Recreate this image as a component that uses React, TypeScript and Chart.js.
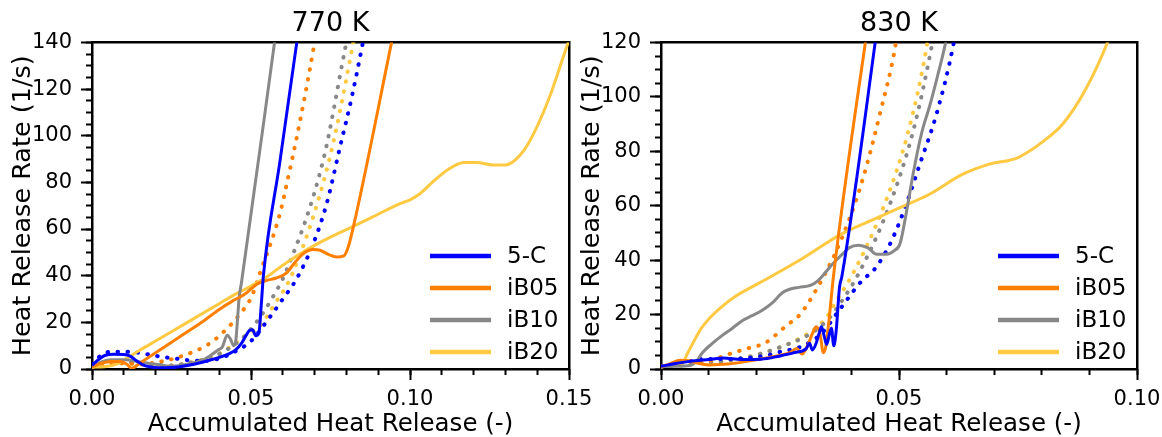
import React, { useEffect, useRef } from 'react';
import { Chart, registerables } from 'chart.js';

Chart.register(...registerables);

type Pt = [number, number];

// ---------- Tick values ----------
const xTicks770 = [0, 0.05, 0.1, 0.15];
const xMinor770 = [0, 0.01, 0.02, 0.03, 0.04, 0.05, 0.06, 0.07, 0.08, 0.09, 0.1, 0.11, 0.12, 0.13, 0.14, 0.15];
const yTicks770 = [0, 20, 40, 60, 80, 100, 120, 140];
const yMinor770 = [0, 5, 10, 15, 20, 25, 30, 35, 40, 45, 50, 55, 60, 65, 70, 75, 80, 85, 90, 95, 100, 105, 110, 115, 120, 125, 130, 135, 140];

const xTicks830 = [0, 0.05, 0.1];
const xMinor830 = [0, 0.01, 0.02, 0.03, 0.04, 0.05, 0.06, 0.07, 0.08, 0.09, 0.1];
const yTicks830 = [0, 20, 40, 60, 80, 100, 120];
const yMinor830 = [0, 5, 10, 15, 20, 25, 30, 35, 40, 45, 50, 55, 60, 65, 70, 75, 80, 85, 90, 95, 100, 105, 110, 115, 120];

const seriesNames = ['5-C', 'iB05', 'iB10', 'iB20'];

// ---------- 770 K : solid curves ----------
const k770_5C_solid: Pt[] = [[0, 1.5], [0.002, 4], [0.004, 5.8], [0.007, 6.3], [0.01, 6.2], [0.012, 5.5], [0.014, 3.5], [0.016, 1.8], [0.018, 1.0], [0.021, 0.5], [0.025, 0.6], [0.03, 1.5], [0.035, 3], [0.04, 5], [0.043, 6.5], [0.045, 8], [0.047, 11], [0.0485, 14.5], [0.0495, 16.5], [0.0505, 16.8], [0.0515, 14.2], [0.0525, 15.5], [0.0532, 27], [0.0539, 40], [0.0591, 89], [0.0645, 141]];
const k770_iB05_solid: Pt[] = [[0, 0.8], [0.003, 2.5], [0.006, 3.2], [0.009, 3.2], [0.011, 2], [0.0125, 0.3], [0.015, 2.5], [0.02, 7], [0.025, 11.5], [0.03, 16], [0.035, 20.5], [0.04, 25.5], [0.044, 29], [0.048, 32], [0.052, 36.5], [0.055, 38], [0.058, 39], [0.061, 41], [0.064, 46], [0.067, 50], [0.0695, 51.2], [0.0717, 50.9], [0.0745, 49], [0.077, 48], [0.0792, 48.5], [0.0805, 52], [0.0822, 61], [0.0942, 140], [0.0945, 142]];
const k770_iB10_solid: Pt[] = [[0, 1], [0.003, 3], [0.006, 4], [0.01, 4], [0.015, 3], [0.02, 2], [0.025, 1.2], [0.03, 2], [0.035, 4], [0.038, 6.5], [0.0395, 8], [0.041, 9.5], [0.0425, 14.5], [0.0435, 13], [0.0445, 10], [0.0452, 12], [0.0458, 22], [0.0463, 31], [0.047, 37], [0.0575, 141]];
const k770_iB20_solid: Pt[] = [[0, 0.8], [0.004, 1], [0.008, 2.2], [0.01, 3.8], [0.015, 8], [0.02, 12], [0.025, 16], [0.03, 20], [0.035, 24], [0.04, 28], [0.045, 32], [0.05, 35.5], [0.055, 39.5], [0.06, 44.5], [0.065, 49], [0.07, 53], [0.075, 56.5], [0.082, 61], [0.088, 65], [0.0969, 70.9], [0.1, 72.5], [0.103, 75], [0.107, 80], [0.112, 85.5], [0.117, 88.5], [0.121, 88.5], [0.126, 87.5], [0.13, 87.5], [0.133, 89.5], [0.136, 94], [0.14, 104], [0.144, 117], [0.148, 133], [0.1505, 143]];

// ---------- 770 K : dotted curves ----------
const k770_5C_dotted: Pt[] = [[0, 2], [0.003, 6], [0.006, 7.4], [0.01, 7.4], [0.013, 7.2], [0.016, 6.7], [0.0214, 5.3], [0.0266, 4.4], [0.03, 3.8], [0.035, 3.5], [0.04, 4.5], [0.045, 7.5], [0.05, 12], [0.056, 22.4], [0.06, 30], [0.0644, 38.8], [0.0696, 53.8], [0.0738, 70.9], [0.078, 95.2], [0.0817, 116.6], [0.0851, 139.4], [0.086, 146]];
const k770_iB05_dotted: Pt[] = [[0, 1], [0.005, 2.5], [0.01, 2.5], [0.015, 2], [0.02, 2.8], [0.025, 4.2], [0.0319, 7.4], [0.0365, 10.5], [0.041, 15.4], [0.0468, 24], [0.0502, 31], [0.0528, 41], [0.0591, 66.6], [0.0617, 82.3], [0.0644, 99.4], [0.0696, 136.9], [0.0702, 142]];
const k770_iB10_dotted: Pt[] = [[0, 1], [0.004, 3], [0.008, 3.5], [0.012, 3], [0.016, 2.5], [0.02, 2], [0.025, 1.5], [0.03, 2.5], [0.035, 4], [0.04, 6.5], [0.0468, 12.6], [0.0515, 19.7], [0.0565, 30], [0.0612, 42.4], [0.0727, 89.5], [0.0796, 137.3], [0.0803, 142]];
const k770_iB20_dotted: Pt[] = [[0, 0.8], [0.004, 2], [0.008, 2.5], [0.012, 2.5], [0.016, 2], [0.02, 1.5], [0.025, 1.5], [0.03, 2.5], [0.035, 4], [0.04, 6.5], [0.048, 14], [0.0527, 18.3], [0.0575, 28], [0.0628, 40.2], [0.0743, 88], [0.0817, 136.6], [0.0824, 142]];

// ---------- 830 K : solid curves ----------
const k830_5C_solid: Pt[] = [[0, 1], [0.003, 2], [0.006, 2.8], [0.01, 3.5], [0.013, 4], [0.017, 3.5], [0.021, 3.6], [0.025, 4.8], [0.028, 6], [0.0305, 7.5], [0.0312, 9.5], [0.0318, 7], [0.0325, 9], [0.0332, 13], [0.0337, 15.5], [0.0343, 12], [0.0348, 9], [0.0354, 13], [0.0358, 15], [0.0363, 8.5], [0.0368, 14], [0.0375, 30], [0.038, 34], [0.045, 120], [0.0453, 124]];
const k830_iB05_solid: Pt[] = [[0, 0.8], [0.002, 2], [0.004, 3.2], [0.006, 3], [0.008, 2], [0.01, 1.5], [0.014, 1.8], [0.0187, 3], [0.0243, 4.8], [0.0271, 6], [0.0285, 7.5], [0.0296, 5.5], [0.0309, 9], [0.0318, 13], [0.0326, 15.5], [0.0334, 13], [0.0341, 6], [0.0346, 8], [0.0353, 18], [0.0362, 33.6], [0.0429, 119.5], [0.0432, 123]];
const k830_iB10_solid: Pt[] = [[0, 0.8], [0.003, 1], [0.006, 1.3], [0.0075, 3], [0.0087, 6], [0.0105, 9], [0.0126, 12], [0.015, 15], [0.0173, 18], [0.019, 19.5], [0.0212, 21.5], [0.0235, 24.5], [0.0255, 28], [0.027, 29.3], [0.029, 30], [0.0315, 30.8], [0.033, 32.5], [0.0348, 36], [0.036, 38.5], [0.038, 42], [0.0395, 44.5], [0.0415, 45.5], [0.0435, 44.5], [0.0453, 42.2], [0.0474, 42.2], [0.049, 43.5], [0.0502, 46], [0.0516, 58], [0.053, 72], [0.0548, 87], [0.0565, 97], [0.058, 107], [0.0598, 120], [0.0601, 123]];
const k830_iB20_solid: Pt[] = [[0, 0.8], [0.002, 1.2], [0.0045, 2], [0.0055, 5.5], [0.007, 10.5], [0.0085, 15], [0.01, 18.3], [0.0125, 22.5], [0.0152, 26.2], [0.0215, 32.4], [0.0298, 40.7], [0.0376, 49.3], [0.0454, 55.5], [0.0501, 59.2], [0.0563, 64.1], [0.0633, 71.5], [0.0688, 75.2], [0.075, 77.7], [0.0805, 83.9], [0.0844, 90], [0.0891, 102.4], [0.0938, 120], [0.0942, 122]];

// ---------- 830 K : dotted curves ----------
const k830_5C_dotted: Pt[] = [[0, 1], [0.004, 1.8], [0.0087, 3.7], [0.0142, 3.7], [0.022, 4.9], [0.0243, 6], [0.0298, 8.5], [0.0337, 13], [0.0376, 22], [0.0425, 33], [0.0446, 36.1], [0.0481, 45.9], [0.0513, 59.4], [0.0544, 75.4], [0.0579, 93.8], [0.0614, 118.9], [0.0617, 122]];
const k830_iB05_dotted: Pt[] = [[0, 1], [0.005, 1.8], [0.01, 3], [0.0152, 6], [0.0187, 7.8], [0.0218, 9.5], [0.0264, 16], [0.0292, 20], [0.0324, 28.5], [0.0362, 41], [0.0397, 55.7], [0.0425, 70.4], [0.046, 93.8], [0.0492, 118.3], [0.0495, 122]];
const k830_iB10_dotted: Pt[] = [[0, 1], [0.005, 1.5], [0.01, 2.5], [0.0142, 3.1], [0.0181, 4.3], [0.022, 6.2], [0.0259, 8.6], [0.0299, 11.5], [0.0327, 14.5], [0.0355, 19], [0.0376, 24], [0.0415, 35], [0.0481, 60.6], [0.053, 87.6], [0.0569, 118.9], [0.0572, 122]];
const k830_iB20_dotted: Pt[] = [[0, 0.8], [0.005, 1.5], [0.01, 2.5], [0.0142, 3.1], [0.0181, 4.3], [0.022, 6.2], [0.0259, 8.6], [0.0297, 11.8], [0.0325, 15], [0.035, 19.5], [0.0365, 24], [0.0403, 35], [0.047, 60.6], [0.052, 87.6], [0.0558, 118.3], [0.0561, 122]];

// ---------- styling ----------
const FONT = 'DejaVu Sans';
const COLORS = ['#0000FF', '#FF8000', '#888888', '#FFC942'];

type Panel = {
  title: string;
  xMax: number;
  yMax: number;
  xTicks: number[];
  xMinor: number[];
  yTicks: number[];
  yMinor: number[];
  solid: Pt[][];
  dotted: Pt[][];
};

const panel770: Panel = {
  title: '770 K', xMax: 0.15, yMax: 140,
  xTicks: xTicks770, xMinor: xMinor770, yTicks: yTicks770, yMinor: yMinor770,
  solid: [k770_5C_solid, k770_iB05_solid, k770_iB10_solid, k770_iB20_solid],
  dotted: [k770_5C_dotted, k770_iB05_dotted, k770_iB10_dotted, k770_iB20_dotted],
};
const panel830: Panel = {
  title: '830 K', xMax: 0.1, yMax: 120,
  xTicks: xTicks830, xMinor: xMinor830, yTicks: yTicks830, yMinor: yMinor830,
  solid: [k830_5C_solid, k830_iB05_solid, k830_iB10_solid, k830_iB20_solid],
  dotted: [k830_5C_dotted, k830_iB05_dotted, k830_iB10_dotted, k830_iB20_dotted],
};

const insetLegend = {
  id: 'insetLegend',
  afterDatasetsDraw(chart: any, _args: any, opts: any) {
    const { ctx, chartArea } = chart;
    const items = chart.data.datasets.filter((d: any) => d.showInLegend);
    ctx.save();
    items.forEach((d: any, i: number) => {
      const y = chartArea.bottom - opts.bottomOffset - (items.length - 1 - i) * opts.rowGap;
      ctx.strokeStyle = d.borderColor;
      ctx.lineWidth = opts.lineWidth;
      ctx.lineCap = 'butt';
      ctx.beginPath();
      ctx.moveTo(chartArea.right - opts.lineStart, y);
      ctx.lineTo(chartArea.right - opts.lineEnd, y);
      ctx.stroke();
      ctx.fillStyle = '#000';
      ctx.font = `${opts.fontSize}px "${FONT}"`;
      ctx.textBaseline = 'middle';
      ctx.textAlign = 'left';
      ctx.fillText(d.label, chartArea.right - opts.textOffset, y + opts.textDy);
    });
    ctx.restore();
  },
};

function buildConfig(p: Panel, padRight: number): any {
  const toXY = (arr: Pt[]) => arr.map(([x, y]) => ({ x, y }));
  const datasets: any[] = [];
  p.solid.forEach((arr, i) => {
    datasets.push({
      label: seriesNames[i], showInLegend: true, data: toXY(arr),
      borderColor: COLORS[i], backgroundColor: COLORS[i], borderWidth: 3,
      pointRadius: 0, fill: false, cubicInterpolationMode: 'monotone',
    });
  });
  p.dotted.forEach((arr, i) => {
    datasets.push({
      label: seriesNames[i] + ' (dotted)', showInLegend: false, data: toXY(arr),
      borderColor: COLORS[i], backgroundColor: COLORS[i], borderWidth: 4,
      borderDash: [0.5, 9.5], borderCapStyle: 'round',
      pointRadius: 0, fill: false, cubicInterpolationMode: 'monotone',
    });
  });

  const tickGrid = (len: number) => ({ drawOnChartArea: false, drawTicks: true, tickLength: len, tickWidth: 2, tickColor: '#000' });
  const setTicks = (vals: number[]) => (s: any) => { s.ticks = vals.map((v) => ({ value: v })); };

  return {
    type: 'line',
    data: { datasets },
    options: {
      animation: false,
      responsive: true,
      maintainAspectRatio: false,
      devicePixelRatio: 1,
      layout: { padding: { left: 0, top: 0, right: padRight, bottom: 0 } },
      plugins: {
        legend: { display: false },
        tooltip: { enabled: false },
        title: {
          display: true, text: p.title, color: '#000', fullSize: false,
          font: { family: FONT, size: 27, weight: 'normal' },
          padding: { top: 8, bottom: 2 },
        },
        insetLegend: { bottomOffset: 17, rowGap: 32, lineStart: 139, lineEnd: 78, textOffset: 62, lineWidth: 4.5, fontSize: 23, textDy: 1 },
      },
      scales: {
        x: {
          type: 'linear', position: 'bottom', min: 0, max: p.xMax, weight: 1,
          afterBuildTicks: setTicks(p.xTicks),
          afterFit: (s: any) => { s.height = 68; s.paddingLeft = 0; s.paddingRight = 0; },
          border: { display: true, color: '#000', width: 2.5 },
          grid: tickGrid(11),
          ticks: { autoSkip: false, maxRotation: 0, padding: 7, color: '#000', font: { family: FONT, size: 21 }, callback: (v: any) => Number(v).toFixed(2) },
          title: { display: true, text: 'Accumulated Heat Release (-)', color: '#000', font: { family: FONT, size: 24.5 }, padding: { top: 0, bottom: -2 } },
        },
        xMinor: {
          type: 'linear', position: 'bottom', min: 0, max: p.xMax, weight: 0,
          afterBuildTicks: setTicks(p.xMinor),
          afterFit: (s: any) => { s.height = 0; s.paddingLeft = 0; s.paddingRight = 0; },
          border: { display: false },
          grid: tickGrid(6),
          ticks: { display: false },
        },
        xTop: {
          type: 'linear', position: 'top', min: 0, max: p.xMax,
          afterFit: (s: any) => { s.height = 0; s.paddingLeft = 0; s.paddingRight = 0; },
          border: { display: true, color: '#000', width: 2.5 },
          grid: { drawOnChartArea: false, drawTicks: false },
          ticks: { display: false },
        },
        y: {
          type: 'linear', position: 'left', min: 0, max: p.yMax, weight: 1,
          afterBuildTicks: setTicks(p.yTicks),
          afterFit: (s: any) => { s.width = 92; s.paddingTop = 0; s.paddingBottom = 0; },
          border: { display: true, color: '#000', width: 2.5 },
          grid: tickGrid(11),
          ticks: { autoSkip: false, padding: 9, color: '#000', font: { family: FONT, size: 21 }, callback: (v: any) => String(v) },
          title: { display: true, text: 'Heat Release Rate (1/s)', color: '#000', font: { family: FONT, size: 25.5 }, padding: { top: 8, bottom: 0 } },
        },
        yMinor: {
          type: 'linear', position: 'left', min: 0, max: p.yMax, weight: 0,
          afterBuildTicks: setTicks(p.yMinor),
          afterFit: (s: any) => { s.width = 0; s.paddingTop = 0; s.paddingBottom = 0; },
          border: { display: false },
          grid: tickGrid(6),
          ticks: { display: false },
        },
        yRight: {
          type: 'linear', position: 'right', min: 0, max: p.yMax,
          afterFit: (s: any) => { s.width = 0; s.paddingTop = 0; s.paddingBottom = 0; },
          border: { display: true, color: '#000', width: 2.5 },
          grid: { drawOnChartArea: false, drawTicks: false },
          ticks: { display: false },
        },
      },
    },
    plugins: [insetLegend],
  };
}

function PanelChart({ panel, left, width, padRight }: { panel: Panel; left: number; width: number; padRight: number }) {
  const ref = useRef<HTMLCanvasElement | null>(null);
  useEffect(() => {
    if (!ref.current) return;
    const chart = new Chart(ref.current, buildConfig(panel, padRight));
    return () => chart.destroy();
  }, [panel, padRight]);
  return (
    <div style={{ position: 'absolute', left, top: 0, width, height: 437 }}>
      <canvas ref={ref} />
    </div>
  );
}

export default function App() {
  Chart.defaults.font.family = FONT;
  return (
    <div style={{ position: 'absolute', left: 0, top: 0, width: 1162, height: 437, background: '#fff', overflow: 'hidden' }}>
      <PanelChart panel={panel770} left={0} width={600} padRight={31} />
      <PanelChart panel={panel830} left={569} width={593} padRight={25} />
    </div>
  );
}
